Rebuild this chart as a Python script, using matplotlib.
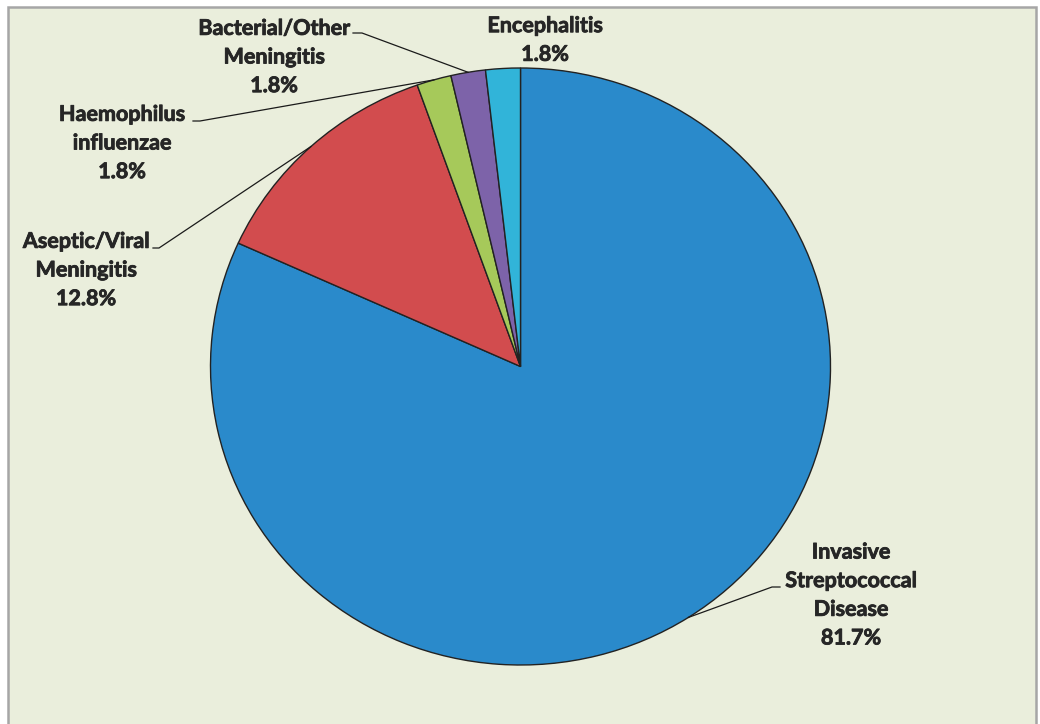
import matplotlib
matplotlib.use("Agg")
import matplotlib.pyplot as plt
import matplotlib.patheffects as pe
from matplotlib.patches import Rectangle
import numpy as np

labels = ["Invasive\nStreptococcal\nDisease", "Aseptic/Viral\nMeningitis",
          "Haemophilus\ninfluenzae", "Bacterial/Other\nMeningitis", "Encephalitis"]
values = [81.7, 12.8, 1.8, 1.8, 1.8]
colors = ["#2A8ACB", "#D24C4E", "#A6C95A", "#7D63A9", "#31B4D9"]

W, H = 1040, 724
CX, CY = 520.5, 366.5     # pie centre in pixels (from top)
RX, RY = 310.0, 298.5     # pie radii in pixels

fig = plt.figure(figsize=(W / 100, H / 100), dpi=100)
fig.patch.set_facecolor("white")
fig.patches.append(Rectangle((8 / W, -0.02), (1036 - 8) / W, 1 - 7 / H + 0.02,
                             transform=fig.transFigure, facecolor="#EAEEDC",
                             edgecolor="#A6A6A6", linewidth=1.8, zorder=-10))

ax = fig.add_axes([0, 0, 1, 1])
ax.set_zorder(5)
ax.set_facecolor("none")
wedges, _ = ax.pie(values, colors=colors, startangle=90, counterclock=False,
                   radius=1, wedgeprops=dict(edgecolor="#222222", linewidth=1.0))
ax.set_aspect("auto")
ax.set_xlim(-CX / RX, (W - CX) / RX)
ax.set_ylim(-(H - CY) / RY, CY / RY)
ax.axis("off")


def P(x, y):
    return ((x - CX) / RX, (CY - y) / RY)


def edge(w):
    a = np.deg2rad((w.theta1 + w.theta2) / 2)
    return np.cos(a), np.sin(a)


font = dict(family=["Lato", "DejaVu Sans"], fontweight="bold", fontsize=15.5,
            color="#262626", ha="center", va="center", linespacing=1.45,
            path_effects=[pe.withStroke(linewidth=0.6, foreground="#262626")])

# label layout: (centre x, centre y) in pixels, elbow segment (x_start, x_end, y)
layout = [
    ((851, 595), (780, 772, 587)),
    ((86, 270), (153, 159, 248)),
    ((122, 143), (193, 200, 121)),
    ((274, 57), (353, 362, 33)),
    ((545, 40), None),
]

for w, lab, v, (pos, elbow) in zip(wedges, labels, values, layout):
    txt = f"{lab}\n{v:.1f}%"
    ax.text(*P(*pos), txt, **font)
    if elbow is not None:
        x0, x1, y = elbow
        ex, ey = edge(w)
        a = P(x0, y)
        b = P(x1, y)
        ax.plot([a[0], b[0], ex], [a[1], b[1], ey], color="#1a1a1a", lw=0.9)

fig.savefig("out.png", dpi=100)
